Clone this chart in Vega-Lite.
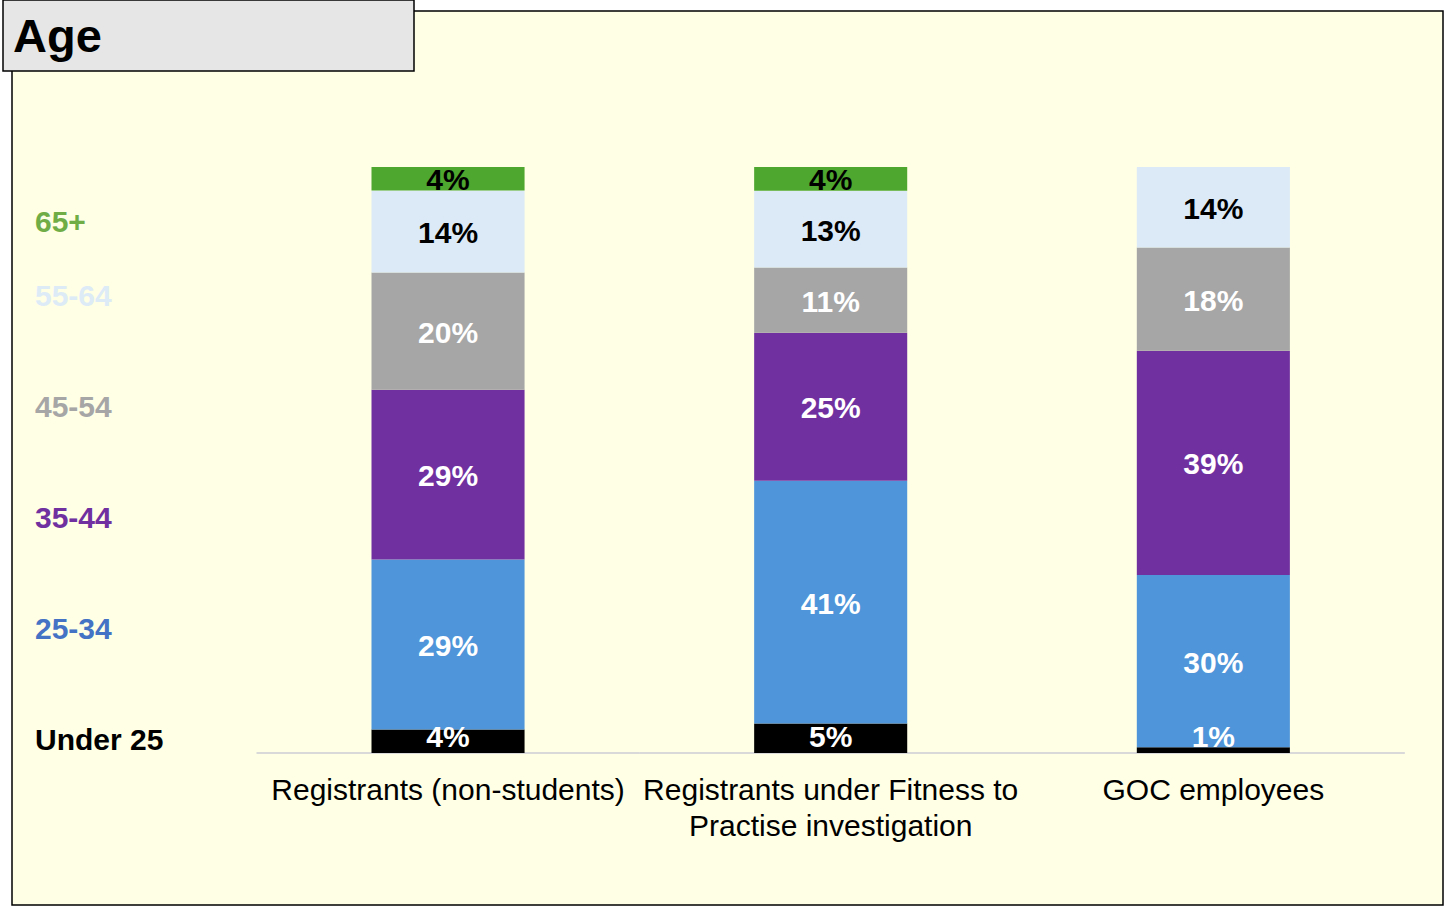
{
  "$schema": "https://vega.github.io/schema/vega-lite/v6.json",
  "width": 1431,
  "height": 894,
  "autosize": {"type": "none"},
  "padding": {"left": 12, "top": 11, "right": 2, "bottom": 1},
  "background": "white",
  "config": {
    "font": "Liberation Sans",
    "view": {"fill": "#FFFFE5", "stroke": "black", "strokeWidth": 1.5}
  },
  "data": {
    "values": [
      {"group": "Registrants (non-students)", "age": "Under 25", "ord": 1, "share": 0.04},
      {"group": "Registrants (non-students)", "age": "25-34", "ord": 2, "share": 0.29},
      {"group": "Registrants (non-students)", "age": "35-44", "ord": 3, "share": 0.29},
      {"group": "Registrants (non-students)", "age": "45-54", "ord": 4, "share": 0.20},
      {"group": "Registrants (non-students)", "age": "55-64", "ord": 5, "share": 0.14},
      {"group": "Registrants (non-students)", "age": "65+", "ord": 6, "share": 0.04},
      {"group": "Registrants under Fitness to Practise investigation", "age": "Under 25", "ord": 1, "share": 0.05},
      {"group": "Registrants under Fitness to Practise investigation", "age": "25-34", "ord": 2, "share": 0.41},
      {"group": "Registrants under Fitness to Practise investigation", "age": "35-44", "ord": 3, "share": 0.25},
      {"group": "Registrants under Fitness to Practise investigation", "age": "45-54", "ord": 4, "share": 0.11},
      {"group": "Registrants under Fitness to Practise investigation", "age": "55-64", "ord": 5, "share": 0.13},
      {"group": "Registrants under Fitness to Practise investigation", "age": "65+", "ord": 6, "share": 0.04},
      {"group": "GOC employees", "age": "Under 25", "ord": 1, "share": 0.01},
      {"group": "GOC employees", "age": "25-34", "ord": 2, "share": 0.30},
      {"group": "GOC employees", "age": "35-44", "ord": 3, "share": 0.39},
      {"group": "GOC employees", "age": "45-54", "ord": 4, "share": 0.18},
      {"group": "GOC employees", "age": "55-64", "ord": 5, "share": 0.14}
    ]
  },
  "transform": [
    {"stack": "share", "groupby": ["group"], "sort": [{"field": "ord", "order": "ascending"}], "offset": "normalize", "as": ["y0", "y1"]},
    {"calculate": "max((datum.y0 + datum.y1) / 2, 0.03)", "as": "ymid"}
  ],
  "encoding": {
    "x": {
      "field": "group",
      "type": "nominal",
      "sort": ["Registrants (non-students)", "Registrants under Fitness to Practise investigation", "GOC employees"],
      "scale": {"paddingInner": 0.6, "paddingOuter": 0.6698, "align": 0.7013},
      "axis": {
        "title": null,
        "orient": "bottom",
        "offset": -152,
        "domain": false,
        "ticks": false,
        "tickSize": 0,
        "labelAngle": 0,
        "labelFont": "Liberation Sans",
        "labelFontSize": 30,
        "labelColor": "black",
        "labelPadding": 22,
        "labelLimit": 0,
        "labelOverlap": false,
        "labelLineHeight": 36,
        "labelExpr": "datum.label == 'Registrants under Fitness to Practise investigation' ? ['Registrants under Fitness to', 'Practise investigation'] : datum.label"
      }
    }
  },
  "layer": [
    {
      "mark": {"type": "tick", "orient": "horizontal", "size": 383, "thickness": 2},
      "encoding": {
        "y": {"datum": 0, "type": "quantitative", "scale": {"domain": [-0.25939, 1.26621], "nice": false, "zero": false}, "axis": null},
        "fill": {
          "aggregate": "sum",
          "field": "share",
          "type": "quantitative",
          "scale": {"range": ["#D9D9D9", "#D9D9D9"]},
          "legend": {
            "type": "gradient",
            "orient": "none",
            "legendX": -9,
            "legendY": -11,
            "direction": "horizontal",
            "title": "Age",
            "titleFont": "Liberation Sans",
            "titleFontSize": 47,
            "titleFontWeight": "bold",
            "titleColor": "black",
            "titleOrient": "left",
            "titleBaseline": "top",
            "titlePadding": 10,
            "gradientLength": 292,
            "gradientThickness": 20,
            "labelOpacity": 0,
            "labelFontSize": 1,
            "fillColor": "#E6E6E6",
            "strokeColor": "black",
            "padding": 10,
            "encode": {
              "gradient": {"update": {"opacity": {"value": 0}}},
              "legend": {"update": {"strokeWidth": {"value": 1.5}}}
            }
          }
        }
      }
    },
    {
      "mark": {"type": "point", "opacity": 0, "filled": true},
      "encoding": {
        "y": {"datum": 0, "type": "quantitative", "axis": null},
        "size": {
          "field": "age",
          "type": "ordinal",
          "scale": {
            "type": "ordinal",
            "domain": ["65+", "55-64", "45-54", "35-44", "25-34", "Under 25"],
            "range": [1, 10816, 10816, 10816, 10816, 10816]
          },
          "legend": {
            "orient": "none",
            "legendX": -81,
            "legendY": 197,
            "title": null,
            "direction": "vertical",
            "symbolOpacity": 0,
            "symbolStrokeWidth": 0,
            "labelOffset": 0,
            "labelFont": "Liberation Sans",
            "labelFontSize": 30,
            "labelFontWeight": "bold",
            "labelLimit": 0,
            "rowPadding": 7,
            "padding": 0
          }
        }
      }
    },
    {
      "mark": {"type": "bar"},
      "encoding": {
        "y": {"field": "y0", "type": "quantitative", "scale": {"domain": [-0.25939, 1.26621], "nice": false, "zero": false}, "axis": null},
        "y2": {"field": "y1"},
        "color": {
          "field": "age",
          "type": "nominal",
          "scale": {
            "domain": ["65+", "55-64", "45-54", "35-44", "25-34", "Under 25"],
            "range": ["#4EA72E", "#DCEAF7", "#A6A6A6", "#7030A0", "#4E95D9", "#000000"]
          },
          "legend": {
            "orient": "none",
            "legendX": -81,
            "legendY": 197,
            "title": null,
            "direction": "vertical",
            "symbolOpacity": 0,
            "symbolStrokeWidth": 0,
            "labelOffset": 0,
            "labelFont": "Liberation Sans",
            "labelFontSize": 30,
            "labelFontWeight": "bold",
            "labelLimit": 0,
            "rowPadding": 7,
            "padding": 0,
            "encode": {
              "labels": {
                "update": {
                  "fill": {"signal": "datum.value === '65+' ? '#70AD47' : datum.value === '55-64' ? '#DDEBF7' : datum.value === '45-54' ? '#A6A6A6' : datum.value === '35-44' ? '#7030A0' : datum.value === '25-34' ? '#4472C4' : '#000000'"}
                }
              }
            }
          }
        }
      }
    },
    {
      "mark": {"type": "text", "font": "Liberation Sans", "fontWeight": "bold", "fontSize": 30, "baseline": "middle", "align": "center", "dy": 2.5},
      "encoding": {
        "y": {"field": "ymid", "type": "quantitative", "axis": null},
        "text": {"field": "share", "type": "quantitative", "format": ".0%"},
        "color": {
          "condition": {"test": "datum.age === '65+' || datum.age === '55-64'", "value": "black"},
          "value": "white"
        }
      }
    }
  ]
}
